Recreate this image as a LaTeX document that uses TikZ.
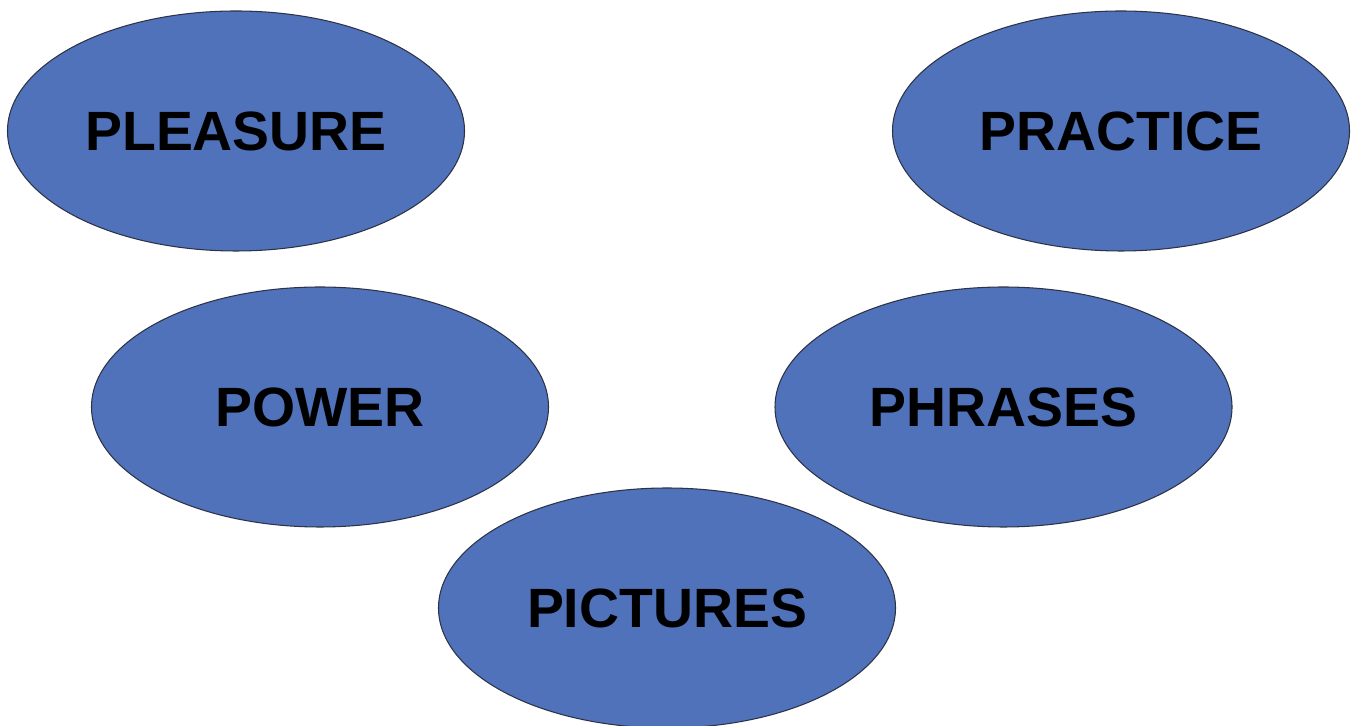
\documentclass[tikz,border=0pt]{standalone}
\usepackage{fontspec}
\setmainfont{Liberation Sans}
\usetikzlibrary{shapes.geometric}
\definecolor{blobblue}{RGB}{79,114,186}
\definecolor{blobline}{RGB}{45,50,70}

\begin{document}
\begin{tikzpicture}[
    blob/.style={ellipse, draw=blobline, line width=0.6pt, fill=blobblue,
        minimum width=9.14cm, minimum height=4.8cm, inner sep=0pt,
        font=\fontsize{31.5}{36}\selectfont\bfseries}
    ]
    \useasboundingbox (0,0) rectangle (27.16,14.52);
    \node[blob] (pleasure) at (4.72,11.90) {PLEASURE};
    \node[blob] (practice) at (22.42,11.90) {PRACTICE};
    \node[blob] (power) at (6.40,6.38) {POWER};
    \node[blob] (phrases) at (20.07,6.38) {PHRASES};
    \node[blob] (pictures) at (13.34,2.36) {PICTURES};
    \end{tikzpicture}
\end{document}
